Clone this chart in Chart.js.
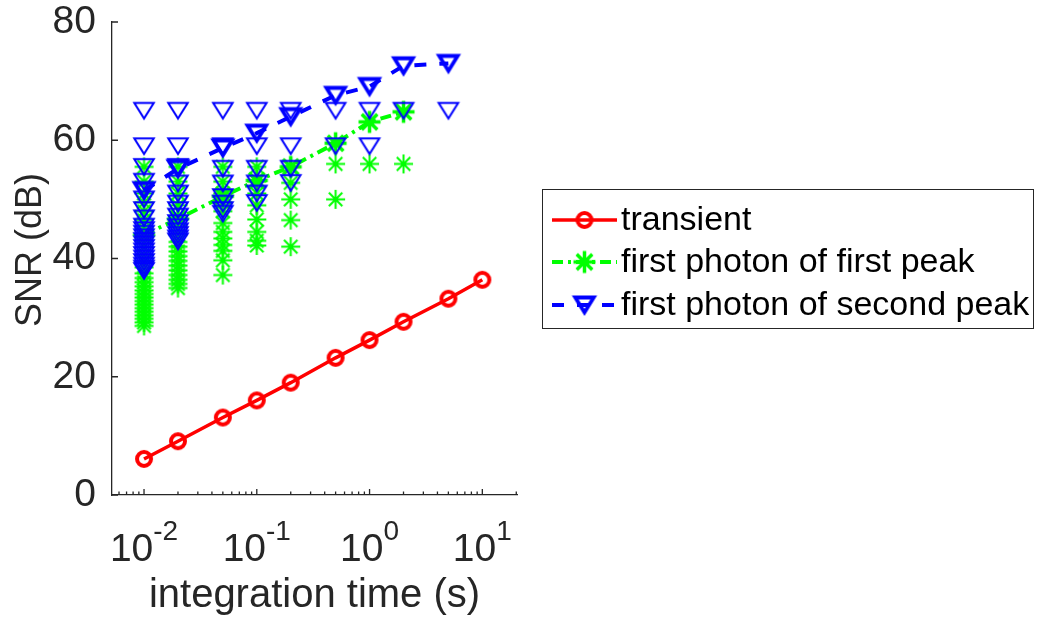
<!DOCTYPE html>
<html>
<head>
<meta charset="utf-8">
<script src="https://cdn.jsdelivr.net/npm/chart.js@4.4.1/dist/chart.umd.min.js"></script>
<style>
  html, body { margin: 0; padding: 0; background: #fff; }
  canvas { display: block; }
</style>
</head>
<body>
<canvas id="snr" width="1037" height="622"></canvas>
<script>
// ---- data -----------------------------------------------------------
const integrationTimes = [0.01, 0.02, 0.05, 0.1, 0.2, 0.5, 1, 2, 5, 10];

// connected curves (dB), one value per integration time
const transientSNR   = [6.1, 9.1, 13.1, 16.0, 19.0, 23.2, 26.2, 29.3, 33.2, 36.4];
const firstPeakSNR   = [44.0, 46.7, 50.5, 53.2, 55.5, 59.5, 63.1, 64.8];        // 0.01 .. 2 s
const secondPeakSNR  = [51.5, 55.2, 58.7, 61.2, 64.0, 67.6, 69.1, 72.6, 73.0];  // 0.01 .. 5 s

// individual runs (dB), one list per integration time
const firstPeakRuns = [
  [55.5, 53, 51, 49.5, 48, 46.5, 45, 43.5, 42, 40.5, 39.5, 38.5, 37.5, 36.7, 36, 35.3, 34.6, 34, 33.4, 32.8, 32.2, 31.6, 31, 30.4, 29.8, 29.2, 28.6],
  [55.5, 53, 51, 49, 47, 45.5, 44, 42.8, 42, 41.2, 40.4, 39.6, 38.8, 38, 37.2, 36.4, 35.7, 35],
  [55.5, 53, 51, 49.5, 48, 46, 44.5, 43.4, 42.3, 41.3, 39.7, 37.2],
  [55.5, 53, 51, 49, 46.6, 44.5, 43, 42.2],
  [55.5, 52.8, 50, 46.5, 42],
  [56, 50],
  [56],
  [56]
];
const secondPeakRuns = [
  [65, 59, 55.5, 53, 50, 48.2, 46.8, 45.4, 44.8, 44.2, 43.6, 43, 42.4, 41.8, 41.2, 40.6, 40, 39.4, 38.8, 38.3, 37.9],
  [65, 59, 55.5, 52.7, 51, 49.3, 48.2, 47.1, 46, 45.3, 44.6, 44, 43.4, 42.9],
  [65, 59, 55.2, 52.7, 50.4, 49.3, 48.2, 47.6],
  [65, 59, 55.2, 52.7, 51, 49.4],
  [65, 59, 55.2, 52.8],
  [65, 59],
  [65, 59],
  [65],
  [65]
];

const xTickExponents = [-2, -1, 0, 1];
const yTicks = [0, 20, 40, 60, 80];
const legendLabels = ['transient', 'first photon of first peak', 'first photon of second peak'];

// ---- styling ----------------------------------------------------------
const FONT = '"Liberation Sans", Arial, Helvetica, sans-serif';
const AXIS = '#262626';
const RED = '#ff0000', GREEN = '#00ff00', BLUE = '#0000ff';

// marker sprites, centred on their bounding box
function sprite(size, draw) {
  const c = document.createElement('canvas');
  c.width = size; c.height = size;
  const g = c.getContext('2d');
  g.translate(size / 2, size / 2);
  draw(g);
  return c;
}
function triangleDown(color, w, h, lw) {
  return sprite(Math.ceil(Math.max(w, h) + lw * 4), g => {
    g.strokeStyle = color; g.lineWidth = lw; g.lineJoin = 'miter';
    g.beginPath();
    g.moveTo(-w / 2, -h / 2); g.lineTo(w / 2, -h / 2); g.lineTo(0, h / 2);
    g.closePath(); g.stroke();
  });
}
function asterisk(color, r, lw) {
  return sprite(Math.ceil(2 * r + lw * 2 + 2), g => {
    g.strokeStyle = color; g.lineWidth = lw; g.lineCap = 'butt';
    g.beginPath();
    for (let k = 0; k < 4; k++) {
      const a = k * Math.PI / 4;
      g.moveTo(-r * Math.cos(a), -r * Math.sin(a));
      g.lineTo(r * Math.cos(a), r * Math.sin(a));
    }
    g.stroke();
  });
}
function ring(color, r, lw) {
  return sprite(Math.ceil(2 * r + lw * 2 + 2), g => {
    g.strokeStyle = color; g.lineWidth = lw;
    g.beginPath(); g.arc(0, 0, r, 0, Math.PI * 2); g.stroke();
  });
}

const markers = {
  circle:   ring(RED, 7, 4),
  starBold: asterisk(GREEN, 11, 3.5),
  starThin: asterisk(GREEN, 9.5, 2),
  triBold:  triangleDown(BLUE, 18.5, 15, 3.8),
  triThin:  triangleDown(BLUE, 19.5, 15.5, 2)
};

const DASH_GREEN = [11, 5, 3, 5];
const DASH_BLUE = [12, 13];

// ---- datasets ----------------------------------------------------------
const curve = vals => vals.map((v, i) => ({ x: integrationTimes[i], y: v }));
const cloud = runs => runs.flatMap((list, i) => list.map(v => ({ x: integrationTimes[i], y: v })));

const datasets = [
  {
    label: legendLabels[0], data: curve(transientSNR), order: 0,
    borderColor: RED, borderWidth: 3.5, pointStyle: markers.circle
  },
  {
    label: legendLabels[2], data: curve(secondPeakSNR), order: 1,
    borderColor: BLUE, borderWidth: 4, borderDash: DASH_BLUE, pointStyle: markers.triBold
  },
  {
    label: 'second peak runs', data: cloud(secondPeakRuns), order: 2,
    showLine: false, pointStyle: markers.triThin
  },
  {
    label: legendLabels[1], data: curve(firstPeakSNR), order: 3,
    borderColor: GREEN, borderWidth: 4, borderDash: DASH_GREEN, pointStyle: markers.starBold
  },
  {
    label: 'first peak runs', data: cloud(firstPeakRuns), order: 4,
    showLine: false, pointStyle: markers.starThin
  }
].map(d => Object.assign({ tension: 0, pointRadius: 8, borderCapStyle: 'butt', fill: false }, d));

// ---- axis decorations: inward ticks, power-of-ten labels, titles -------
const axisDecor = {
  id: 'axisDecor',
  beforeDatasetsDraw(chart) {
    const { ctx, chartArea: a, scales: { x, y } } = chart;
    ctx.save();
    ctx.strokeStyle = AXIS; ctx.lineWidth = 1.3;
    ctx.beginPath();
    yTicks.forEach(v => {
      const py = y.getPixelForValue(v);
      ctx.moveTo(a.left, py); ctx.lineTo(a.left + 6, py);
    });
    for (let e = -3; e <= 2; e++) {
      for (let m = 1; m <= 9; m++) {
        const v = m * Math.pow(10, e);
        if (v < x.min || v > x.max) continue;
        const px = x.getPixelForValue(v);
        ctx.moveTo(px, a.bottom); ctx.lineTo(px, a.bottom - (m === 1 ? 6 : 3.5));
      }
    }
    ctx.stroke();
    ctx.restore();
  },
  afterDraw(chart) {
    const { ctx, chartArea: a, scales: { x } } = chart;
    ctx.save();
    ctx.fillStyle = AXIS;
    ctx.textBaseline = 'alphabetic';
    ctx.textAlign = 'left';
    const baseFont = `39px ${FONT}`, supFont = `28px ${FONT}`;
    xTickExponents.forEach(e => {
      const px = x.getPixelForValue(Math.pow(10, e));
      ctx.font = baseFont; const wb = ctx.measureText('10').width;
      ctx.font = supFont; const sup = String(e); const ws = ctx.measureText(sup).width;
      const x0 = px - (wb + ws) / 2;
      ctx.font = baseFont; ctx.fillText('10', x0, 561);
      ctx.font = supFont; ctx.fillText(sup, x0 + wb, 540);
    });
    ctx.font = `40px ${FONT}`;
    ctx.textAlign = 'center';
    ctx.fillText('integration time (s)', (a.left + a.right) / 2, 607);
    ctx.save();
    ctx.font = `36px ${FONT}`;
    ctx.translate(41, 250);
    ctx.rotate(-Math.PI / 2);
    ctx.fillText('SNR (dB)', 0, 0);
    ctx.restore();
    ctx.restore();
  }
};

// ---- boxed legend beside the axes ------------------------------------
const legendBox = {
  id: 'legendBox',
  afterDraw(chart) {
    const { ctx } = chart;
    const box = { x: 542, y: 189, w: 491, h: 139 };
    const rows = [
      { ds: chart.data.datasets[0], y: 220 },
      { ds: chart.data.datasets[3], y: 262 },
      { ds: chart.data.datasets[1], y: 305 }
    ];
    ctx.save();
    ctx.fillStyle = '#fff';
    ctx.fillRect(box.x, box.y, box.w, box.h);
    ctx.strokeStyle = AXIS; ctx.lineWidth = 1;
    ctx.strokeRect(box.x + 0.5, box.y + 0.5, box.w, box.h);
    rows.forEach(r => {
      const d = r.ds;
      ctx.save();
      ctx.strokeStyle = d.borderColor; ctx.lineWidth = d.borderWidth;
      ctx.setLineDash(d.borderDash || []);
      ctx.beginPath(); ctx.moveTo(552, r.y); ctx.lineTo(617, r.y); ctx.stroke();
      ctx.restore();
      const m = d.pointStyle;
      ctx.drawImage(m, 584.5 - m.width / 2, r.y - m.height / 2);
      ctx.fillStyle = '#000';
      ctx.font = `34px ${FONT}`;
      ctx.textBaseline = 'middle';
      ctx.textAlign = 'left';
      ctx.fillText(d.label, 621, r.y + 1);
    });
    ctx.restore();
  }
};

// ---- chart ---------------------------------------------------------
new Chart(document.getElementById('snr'), {
  type: 'line',
  data: { datasets },
  options: {
    responsive: false,
    animation: false,
    devicePixelRatio: 1,
    events: [],
    layout: { padding: { top: 22, right: 520, left: 0, bottom: 0 } },
    plugins: { legend: { display: false }, tooltip: { enabled: false } },
    scales: {
      x: {
        type: 'logarithmic', min: 0.0052, max: 20.3,
        grid: { display: false, drawTicks: false },
        border: { display: true, color: AXIS, width: 1.3 },
        ticks: { display: false },
        afterFit: s => { s.height = 127; s.paddingLeft = 0; s.paddingRight = 0; }
      },
      y: {
        type: 'linear', min: 0, max: 80,
        afterBuildTicks: s => { s.ticks = yTicks.map(v => ({ value: v })); },
        ticks: { font: { family: FONT, size: 39 }, color: AXIS, padding: 16 },
        grid: { display: false, drawTicks: false },
        border: { display: true, color: AXIS, width: 1.3 },
        afterFit: s => { s.width = 112; s.paddingTop = 0; s.paddingBottom = 0; }
      }
    }
  },
  plugins: [axisDecor, legendBox]
});
</script>
</body>
</html>
